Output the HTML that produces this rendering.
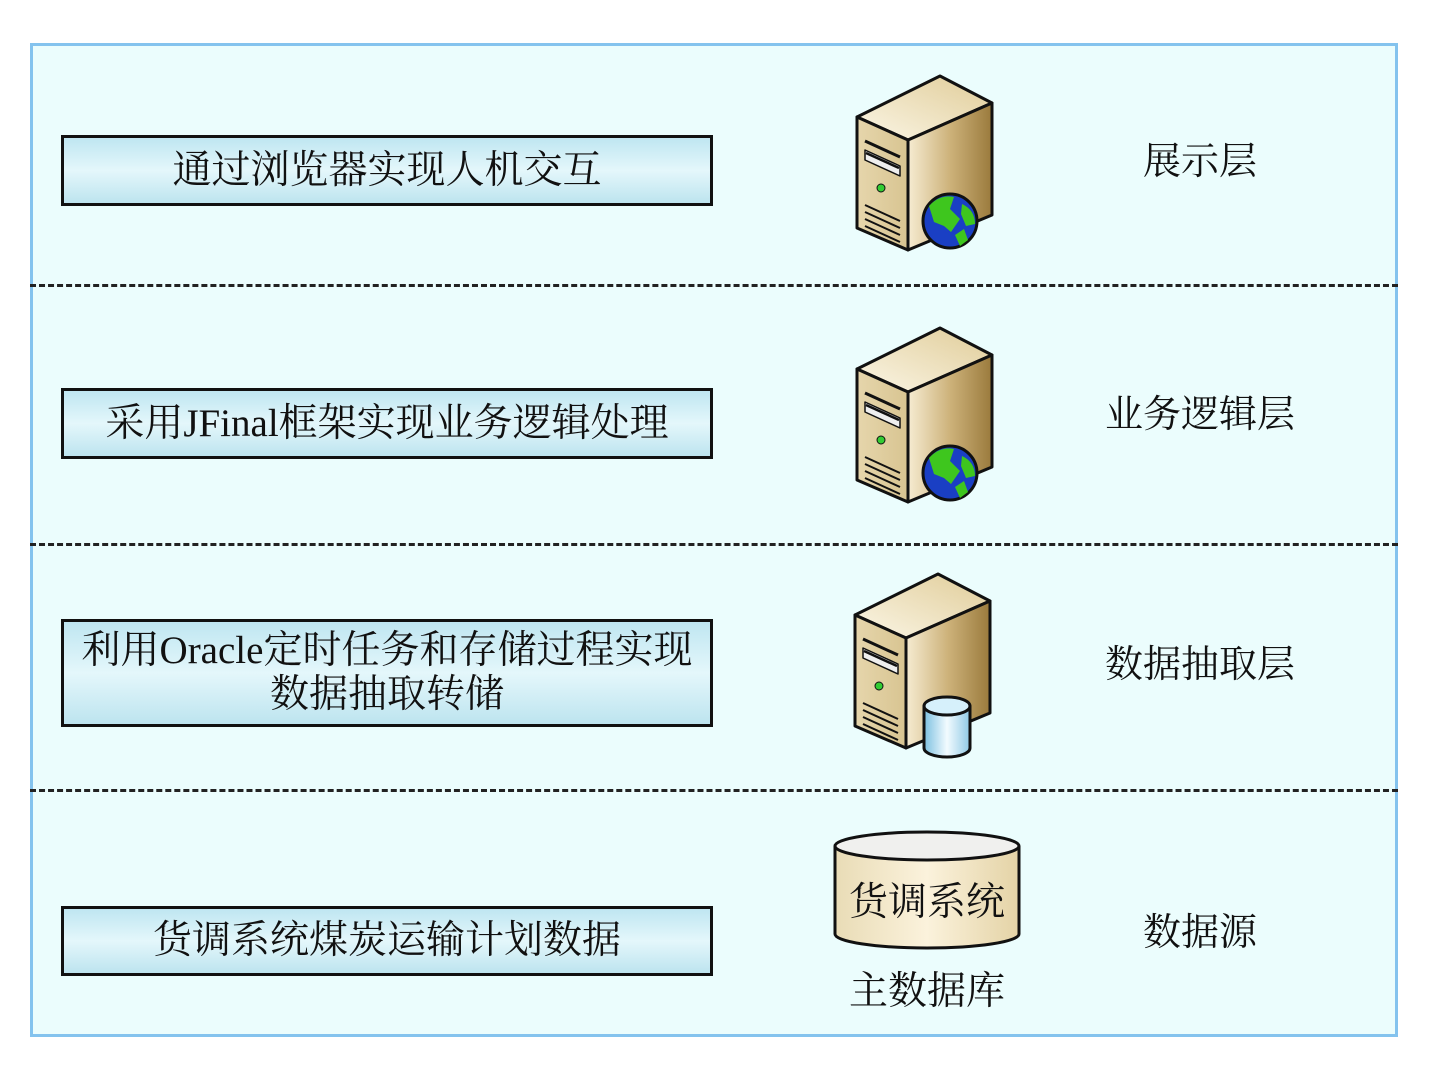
<!DOCTYPE html>
<html><head><meta charset="utf-8">
<style>
html,body{margin:0;padding:0;background:#fff;}
body{width:1433px;height:1068px;position:relative;overflow:hidden;font-family:"Liberation Serif","Noto Serif CJK SC",serif;color:#111;}
.frame{position:absolute;left:30px;top:43px;width:1362px;height:988px;border:3px solid #84c3ee;background:#ebfdfd;}
.dash{position:absolute;left:30px;width:1368px;border-top:3px dashed #222;height:0;}
.box{position:absolute;left:61px;width:646px;border:3px solid #111;background:linear-gradient(#bfe6f1,#e4f7fb 50%,#bde4ef);display:flex;align-items:center;justify-content:center;text-align:center;font-size:39px;line-height:44px;}
.lbl{position:absolute;font-size:38px;line-height:40px;width:300px;text-align:center;}
svg{position:absolute;left:0;top:0;}
</style></head><body>
<div class="frame"></div>
<div class="dash" style="top:284px"></div>
<div class="dash" style="top:543px"></div>
<div class="dash" style="top:789px"></div>

<div class="box" style="top:135px;height:65px">通过浏览器实现人机交互</div>
<div class="box" style="top:388px;height:65px">采用JFinal框架实现业务逻辑处理</div>
<div class="box" style="top:619px;height:102px">利用Oracle定时任务和存储过程实现<br>数据抽取转储</div>
<div class="box" style="top:906px;height:64px">货调系统煤炭运输计划数据</div>

<div class="lbl" style="left:1050px;top:142px">展示层</div>
<div class="lbl" style="left:1050px;top:395px">业务逻辑层</div>
<div class="lbl" style="left:1050px;top:645px">数据抽取层</div>
<div class="lbl" style="left:1050px;top:913px">数据源</div>

<svg width="1433" height="1068" viewBox="0 0 1433 1068">
<defs>
<linearGradient id="front" x1="0" x2="1" y1="0" y2="0"><stop offset="0" stop-color="#e6d6ac"/><stop offset="1" stop-color="#d8c491"/></linearGradient>
<linearGradient id="side" x1="0" x2="1" y1="0" y2="0"><stop offset="0" stop-color="#f6ecd2"/><stop offset="0.5" stop-color="#cdb27a"/><stop offset="1" stop-color="#9a7a3c"/></linearGradient>
<linearGradient id="top" x1="0" x2="1" y1="1" y2="0"><stop offset="0" stop-color="#fbf6e6"/><stop offset="1" stop-color="#e0cc98"/></linearGradient>
<linearGradient id="cylb" x1="0" x2="1"><stop offset="0" stop-color="#7cc0e0"/><stop offset="0.5" stop-color="#f2fbff"/><stop offset="1" stop-color="#8fc8e4"/></linearGradient>
<linearGradient id="cyl" x1="0" x2="1"><stop offset="0" stop-color="#e9dcb6"/><stop offset="0.5" stop-color="#fbf2dc"/><stop offset="1" stop-color="#e4d3a6"/></linearGradient>
<g id="srv" stroke="#111" stroke-width="3" stroke-linejoin="round">
<polygon points="857,117 940,76 992,103 908,140" fill="url(#top)"/>
<polygon points="857,117 908,140 908,250 857,228" fill="url(#front)"/>
<polygon points="908,140 992,103 992,215 908,250" fill="url(#side)"/>
<line x1="865" y1="141" x2="900" y2="157" stroke-width="3"/>
<polygon points="865,150 900,166 900,176 865,160" fill="#eee" stroke-width="1.5"/>
<line x1="866" y1="153" x2="899" y2="168" stroke-width="2.5"/>
<circle cx="881" cy="188" r="4" fill="#3c3" stroke-width="1"/>
<g stroke-width="2"><line x1="865" y1="205" x2="900" y2="221"/><line x1="865" y1="212" x2="900" y2="228"/><line x1="865" y1="219" x2="900" y2="235"/><line x1="865" y1="226" x2="900" y2="242"/></g>
</g>
<g id="globe">
<circle cx="950" cy="221" r="27" fill="#1a3fc4" stroke="#111" stroke-width="3"/>
<path d="M929,206 Q940,194 954,197 L950,209 L960,219 L951,232 L944,226 L934,222 Z" fill="#3ec61e"/>
<path d="M955,235 L964,229 L968,240 L960,246 Z" fill="#3ec61e"/>
<path d="M962,204 Q975,210 975,224 L966,226 L961,214 Z" fill="#3ec61e"/>
</g>
</defs>
<use href="#srv"/><use href="#globe"/>
<g transform="translate(0,252)"><use href="#srv"/><use href="#globe"/></g>
<g transform="translate(-2,498)"><use href="#srv"/></g>
<g stroke="#111" stroke-width="3">
<path d="M924,706 L924,748 A23,9 0 0 0 970,748 L970,706" fill="url(#cylb)"/>
<ellipse cx="947" cy="706" rx="23" ry="9" fill="#d6f0fb"/>
</g>
<g stroke="#111" stroke-width="3">
<path d="M835,846 L835,934 A92,14 0 0 0 1019,934 L1019,846" fill="url(#cyl)"/>
<ellipse cx="927" cy="846" rx="92" ry="14" fill="#f0f0ee"/>
</g>
<text x="927" y="915" text-anchor="middle" font-size="39" font-family="Liberation Serif, Noto Serif CJK SC, serif" fill="#111">货调系统</text>
<text x="927" y="1004" text-anchor="middle" font-size="39" font-family="Liberation Serif, Noto Serif CJK SC, serif" fill="#111">主数据库</text>
</svg>
</body></html>
